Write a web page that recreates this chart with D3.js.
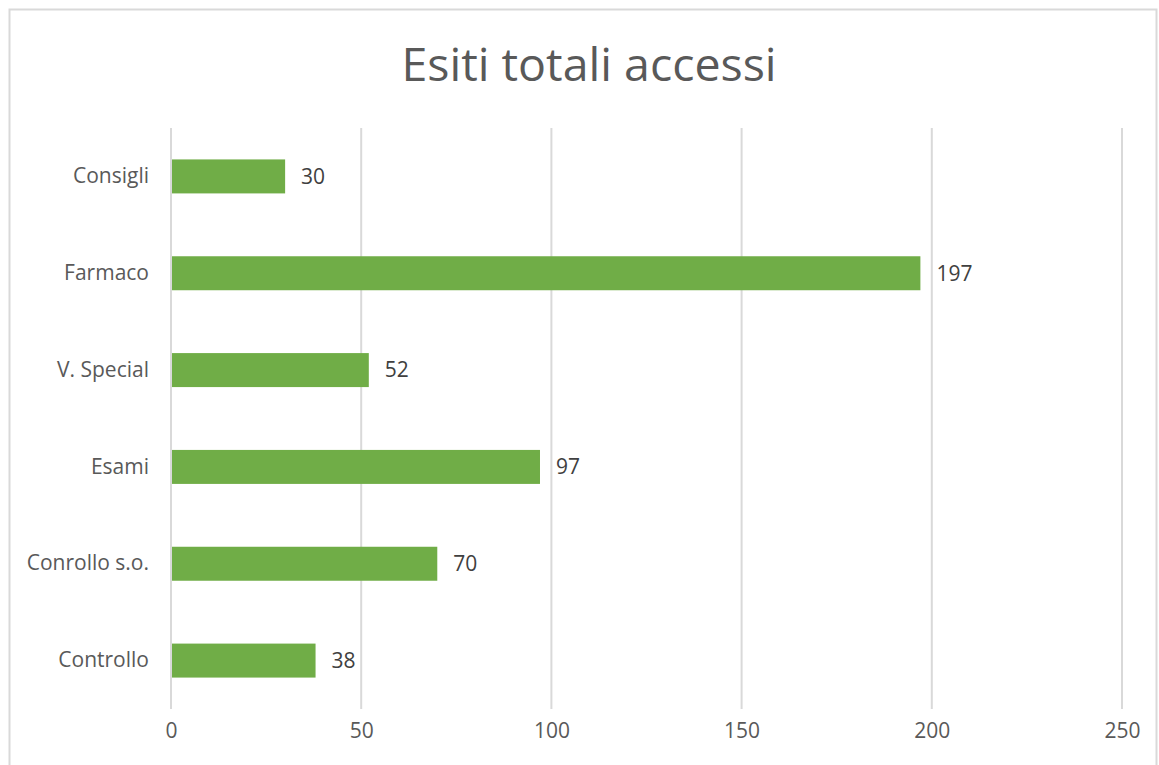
<!DOCTYPE html>
<html>
  <head>
    <meta charset="utf-8" />
    <style>
      body { margin: 0; background: #fff; }
      #chart { width: 1159px; height: 765px; }
      text { font-family: "Open Sans", "Noto Sans", sans-serif; }
    </style>
  </head>
  <body>
    <div id="chart"></div>
    <script src="https://d3js.org/d3.v7.min.js"></script>
    <script>
    // data
    var categories = ["Consigli", "Farmaco", "V. Special", "Esami", "Conrollo s.o.", "Controllo"];
    var values = [30, 197, 52, 97, 70, 38];
    var xTicks = [0, 50, 100, 150, 200, 250];
    var title = "Esiti totali accessi";

    var width = 1159,
        height = 765,
        margin = {top: 128, right: 37, bottom: 56, left: 171};

    var svg = d3.select('#chart')
      .append('svg')
      .attr('width', width)
      .attr('height', height);

    // outer chart border
    svg.append('rect')
      .attr('x', 9.5).attr('y', 9.5)
      .attr('width', 1147).attr('height', 770)
      .attr('fill', 'none')
      .attr('stroke', '#d9d9d9')
      .attr('stroke-width', 2);

    var x = d3.scaleLinear()
      .domain([0, 250])
      .range([margin.left, width - margin.right]);

    var y = d3.scaleBand()
      .domain(categories)
      .range([margin.top, height - margin.bottom])
      .paddingInner(0.649)
      .paddingOuter(0.3245);

    // gridlines
    svg.append('g')
      .selectAll('line')
      .data(xTicks)
      .enter().append('line')
      .attr('x1', function(d) { return x(d); })
      .attr('x2', function(d) { return x(d); })
      .attr('y1', margin.top)
      .attr('y2', height - margin.bottom)
      .attr('stroke', '#d9d9d9')
      .attr('stroke-width', 2);

    // x axis labels
    var xAxis = d3.axisBottom(x).tickValues(xTicks).tickSize(0).tickPadding(0);
    svg.append('g')
      .attr('transform', 'translate(0,' + (height - 34) + ')')
      .call(xAxis)
      .call(function(g) { g.select('.domain').remove(); })
      .selectAll('text')
      .attr('dy', '0.32em')
      .style('font-size', '21px')
      .style('font-family', '"Open Sans", sans-serif')
      .attr('fill', '#595959');

    // y axis labels
    var yAxis = d3.axisLeft(y).tickSize(0).tickPadding(22);
    svg.append('g')
      .attr('transform', 'translate(' + margin.left + ',0)')
      .call(yAxis)
      .call(function(g) { g.select('.domain').remove(); })
      .selectAll('text')
      .style('font-size', '21px')
      .style('font-family', '"Open Sans", sans-serif')
      .attr('fill', '#595959');

    var rows = categories.map(function(c, i) { return {label: c, value: values[i]}; });

    // bars
    svg.append('g')
      .selectAll('rect')
      .data(rows)
      .enter().append('rect')
      .attr('x', x(0) + 1)
      .attr('y', function(d) { return y(d.label); })
      .attr('width', function(d) { return x(d.value) - x(0) - 1; })
      .attr('height', y.bandwidth())
      .attr('fill', '#70ad47');

    // value labels
    svg.append('g')
      .selectAll('text')
      .data(rows)
      .enter().append('text')
      .attr('x', function(d) { return x(d.value) + 16; })
      .attr('y', function(d) { return y(d.label) + y.bandwidth() / 2; })
      .attr('dy', '0.35em')
      .style('font-size', '21px')
      .attr('fill', '#404040')
      .text(function(d) { return d.value; });

    // title
    svg.append('text')
      .attr('x', 589)
      .attr('y', 81)
      .attr('text-anchor', 'middle')
      .style('font-size', '46.5px')
      .attr('fill', '#595959')
      .text(title);
    </script>
  </body>
</html>
